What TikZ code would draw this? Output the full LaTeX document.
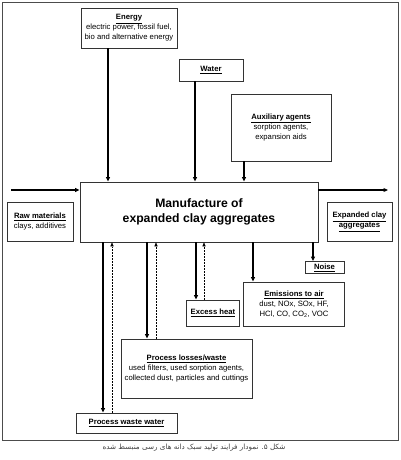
\documentclass[tikz,border=0pt]{standalone}
\usepackage{fontspec}
\setmainfont{Liberation Sans}
\newfontfamily\arabicfont[Script=Arabic]{DejaVu Sans}
\usetikzlibrary{arrows.meta}
\TeXXeTstate=1
\newcommand{\hd}[1]{\underline{\textbf{#1}}}

\begin{document}
\begin{tikzpicture}[x=1pt, y=-1pt,
  box/.style={draw=black!80, line width=0.8pt, align=center, inner sep=1pt,
    font=\fontsize{7.7}{10}\selectfont},
  flow/.style={line width=1.2pt, -{Triangle[length=4.5pt,width=3.8pt]}},
  back/.style={line width=0.5pt, densely dotted, -{Triangle[length=4pt,width=3.2pt]}}]
\useasboundingbox (0,0) rectangle (400,460);
% Marco
\draw[black!70, line width=0.6pt] (2,2) rectangle (398,440);
% Cajas
\node[box, minimum width=238pt, minimum height=60pt,
  font=\fontsize{12.2}{15.5}\selectfont\bfseries] (main) at (199,212)
  {Manufacture of\\expanded clay aggregates};
\node[box, minimum width=96pt, minimum height=40pt] (energy) at (129,28)
  {\hd{Energy}\\electric power, fossil fuel,\\bio and alternative energy};
\node[box, minimum width=64pt, minimum height=22pt] (water) at (211,70) {\hd{Water}};
\node[box, minimum width=100pt, minimum height=67pt] (aux) at (281,127.5)
  {\hd{Auxiliary agents}\\sorption agents,\\expansion aids};
\node[box, minimum width=66pt, minimum height=39pt] (raw) at (40,222)
  {\hd{Raw materials}\\clays, additives};
\node[box, minimum width=65pt, minimum height=39pt] (product) at (359.5,222)
  {\hd{Expanded clay}\\\hd{aggregates}};
\node[box, minimum width=39pt, minimum height=12pt] (noise) at (324.5,267.5) {\hd{Noise}};
\node[box, minimum width=101pt, minimum height=44pt] (air) at (294,304)
  {\hd{Emissions to air}\\dust, NOx, SOx, HF,\\HCl, CO, CO\textsubscript{2}, VOC};
\node[box, minimum width=53pt, minimum height=26pt] (heat) at (213,313) {\hd{Excess heat}};
\node[box, minimum width=131pt, minimum height=59pt] (losses) at (186.5,368.5)
  {\hd{Process losses/waste}\\used filters, used sorption agents,\\collected dust, particles and cuttings};
\node[box, minimum width=101pt, minimum height=20pt] (wastewater) at (126.5,423)
  {\hd{Process waste water}};
% Entradas
\draw[flow] (energy.south -| 108,0) -- (main.north -| 108,0);
\draw[flow] (water.south -| 195,0) -- (main.north -| 195,0);
\draw[flow] (aux.south -| 244,0) -- (main.north -| 244,0);
\coordinate (in) at (11,190);
\coordinate (out) at (388,190);
\draw[flow] (in) -- (main.west |- in);
\draw[flow] (main.east |- out) -- (out);
% Salidas y retornos
\draw[flow] (main.south -| 103,0) -- (wastewater.north -| 103,0);
\draw[back] (wastewater.north -| 112,0) -- (main.south -| 112,0);
\draw[flow] (main.south -| 147,0) -- (losses.north -| 147,0);
\draw[back] (losses.north -| 156,0) -- (main.south -| 156,0);
\draw[flow] (main.south -| 196,0) -- (heat.north -| 196,0);
\draw[back] (heat.north -| 204,0) -- (main.south -| 204,0);
\draw[flow] (main.south -| 253,0) -- (air.north -| 253,0);
\draw[flow] (main.south -| 313,0) -- (noise.north -| 313,0);
% Pie de figura
\node[text=black!75, font=\arabicfont\fontsize{7.2}{9}\selectfont] (caption) at (194,448)
  {\beginR شکل ۵. نمودار فرایند تولید سبک دانه های رسی منبسط شده\endR};
\end{tikzpicture}
\end{document}
